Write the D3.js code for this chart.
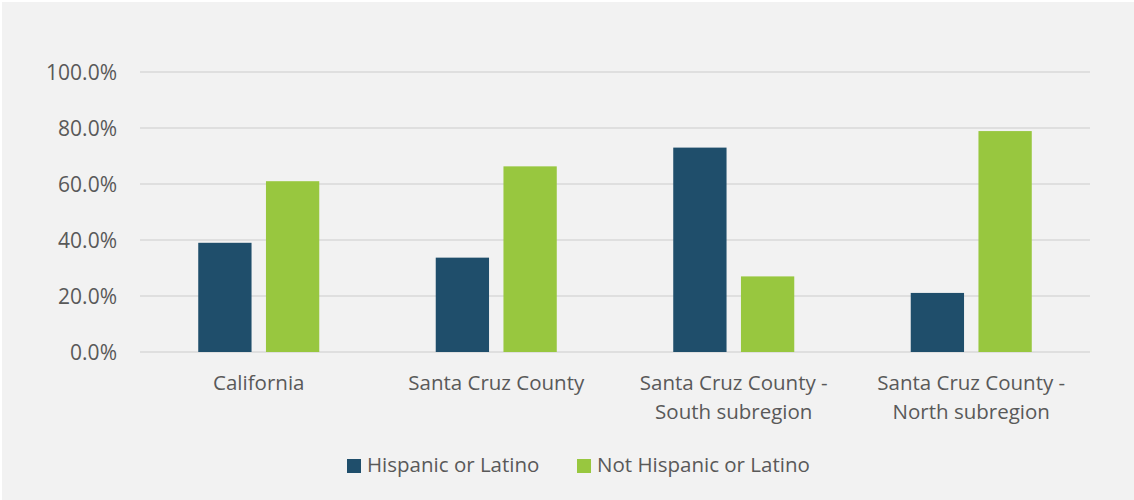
<!DOCTYPE html>
<html><head><meta charset="utf-8">
<script src="https://cdn.jsdelivr.net/npm/d3@7"></script>
<style>html,body{margin:0;padding:0;background:#fff;}svg{display:block;}</style>
</head><body>
<svg id="chart" width="1134" height="500"></svg>
<script>
const categories = [["California"], ["Santa Cruz County"], ["Santa Cruz County -", "South subregion"], ["Santa Cruz County -", "North subregion"]];
const seriesNames = ["Hispanic or Latino", "Not Hispanic or Latino"];
const hispanic = [39.0, 33.7, 73.0, 21.1];
const notHispanic = [61.0, 66.3, 27.0, 78.9];
const yTicks = [0, 20, 40, 60, 80, 100];
const colors = ["#1f4e6b", "#98c73f"];

(function () {
const FONT = "'Open Sans', sans-serif";
const FS = 20.5;
const TXT = "#595959";
const svg = d3.select("#chart");
svg.append("rect").attr("x", 2).attr("y", 2).attr("width", 1132).attr("height", 498).attr("fill", "#f2f2f2");

const plotL = 140, plotR = 1090, plotT = 72, plotB = 352;
const catKeys = categories.map((c, i) => i);
const x0 = d3.scaleBand().domain(catKeys).range([plotL, plotR]).padding(0);
const x1 = d3.scaleBand().domain([0, 1]).range([0, x0.bandwidth()]).paddingInner(0.213).paddingOuter(0.86);
const y = d3.scaleLinear().domain([0, 100]).range([plotB, plotT]);

svg.append("g").selectAll("line").data(yTicks).join("line")
  .attr("x1", plotL).attr("x2", plotR)
  .attr("y1", d => y(d)).attr("y2", d => y(d))
  .attr("stroke", "#d9d9d9").attr("stroke-width", 1.3);

const yAxis = d3.axisLeft(y).tickValues(yTicks).tickFormat(d => d.toFixed(1) + "%").tickSize(0).tickPadding(23);
const ya = svg.append("g").attr("transform", `translate(${plotL},0)`).call(yAxis);
ya.select(".domain").remove();
ya.selectAll("text").attr("font-family", FONT).attr("font-size", 21).attr("fill", TXT).attr("dy", "0.35em");

const series = [hispanic, notHispanic];
series.forEach((vals, si) => {
  svg.append("g").selectAll("rect").data(vals).join("rect")
    .attr("x", (d, i) => x0(i) + x1(si))
    .attr("width", x1.bandwidth())
    .attr("y", d => y(d))
    .attr("height", d => y(0) - y(d))
    .attr("fill", colors[si]);
});

const xl = svg.append("g");
categories.forEach((lines, i) => {
  const cx = x0(i) + x0.bandwidth() / 2;
  const t = xl.append("text").attr("x", cx).attr("y", 390)
    .attr("text-anchor", "middle").attr("font-family", FONT).attr("font-size", FS).attr("fill", TXT);
  lines.forEach((ln, j) => t.append("tspan").attr("x", cx).attr("dy", j === 0 ? 0 : 29).text(ln));
});

const legendX = [347, 577];
seriesNames.forEach((n, i) => {
  svg.append("rect").attr("x", legendX[i]).attr("y", 459).attr("width", 14).attr("height", 14).attr("fill", colors[i]);
  svg.append("text").attr("x", legendX[i] + 20).attr("y", 472).attr("font-family", FONT).attr("font-size", FS).attr("fill", TXT).text(n);
});
})();
</script>
</body></html>
